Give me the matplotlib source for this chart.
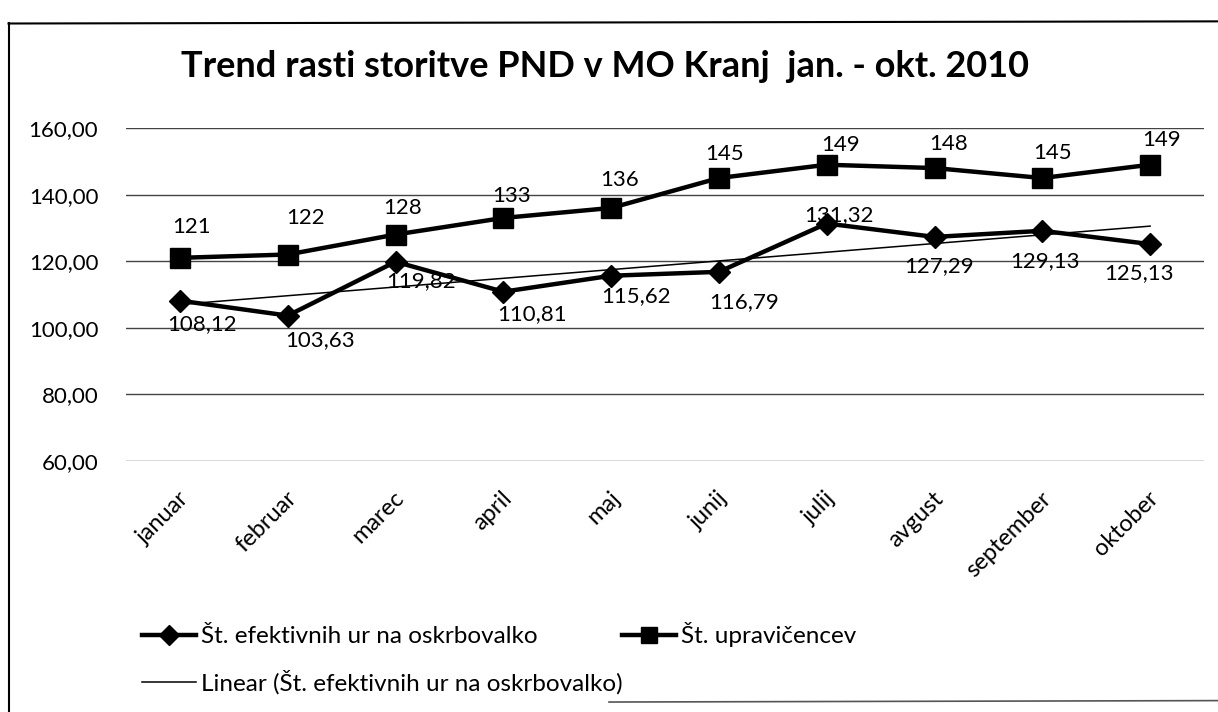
import numpy as np
import matplotlib
matplotlib.use("Agg")
from matplotlib import pyplot as plt
from matplotlib.lines import Line2D
import matplotlib.transforms as mtransforms

# Data
months = ['januar', 'februar', 'marec', 'april', 'maj',
          'junij', 'julij', 'avgust', 'september', 'oktober']
hours = [108.12, 103.63, 119.82, 110.81, 115.62,
         116.79, 131.32, 127.29, 129.13, 125.13]
users = [121, 122, 128, 133, 136, 145, 149, 148, 145, 149]
y_ticks = [60, 80, 100, 120, 140, 160]

# label offsets in points (dx, dy)
hours_off = [(16, -17), (23, -18), (18, -14), (21, -16), (18, -15),
             (18, -22), (9, 6), (3, -21), (2, -22), (-8, -21)]
users_off = [(8, 22), (13, 26), (5, 19), (6, 16), (6, 20),
             (4, 17), (10, 14), (10, 17), (7, 18), (8, 18)]

plt.rcParams['font.family'] = ['Lato', 'DejaVu Sans']

fig = plt.figure(figsize=(12.18, 7.12), dpi=100)
ax = fig.add_axes([0.1035, 0.353, 0.885, 0.467])

x = np.arange(len(months))

# trend line for hours
k, n = np.polyfit(x, hours, 1)
trend = k * x + n

ax.plot(x, trend, color='black', lw=1.1, zorder=3)
ax.plot(x, hours, color='black', lw=3.2, marker='D', markersize=11, zorder=4)
ax.plot(x, users, color='black', lw=3.2, marker='s', markersize=14, zorder=4)

for i in range(len(x)):
    ax.annotate(f'{hours[i]:.2f}'.replace('.', ','), (x[i], hours[i]),
                xytext=hours_off[i], textcoords='offset points',
                ha='center', va='center', fontsize=16, zorder=5)
    ax.annotate(str(users[i]), (x[i], users[i]),
                xytext=users_off[i], textcoords='offset points',
                ha='center', va='center', fontsize=16, zorder=5)

ax.set_xlim(-0.5, len(months) - 0.5)
ax.set_ylim(60, 160)
ax.set_yticks(y_ticks)
ax.set_yticklabels([f'{v:.2f}'.replace('.', ',') for v in y_ticks], fontsize=16)
ax.yaxis.grid(True, color='#444444', lw=1)
ax.set_axisbelow(True)
for s in ax.spines.values():
    s.set_visible(False)
ax.tick_params(axis='both', length=0)
ax.tick_params(axis='y', pad=20)

ax.set_xticks(x)
ax.set_xticklabels(months, rotation=45, ha='right', va='top',
                   rotation_mode='anchor', fontsize=17)
offset = mtransforms.ScaledTranslation(-0.02, -0.22, fig.dpi_scale_trans)
for lab in ax.get_xticklabels():
    lab.set_transform(lab.get_transform() + offset)

fig.text(0.497, 0.907, 'Trend rasti storitve PND v MO Kranj  jan. - okt. 2010',
         ha='center', va='center', fontsize=26, fontweight='bold')

# legend
h1 = Line2D([], [], color='black', lw=3.2, marker='D', markersize=10)
h2 = Line2D([], [], color='black', lw=3.2, marker='s', markersize=12)
h3 = Line2D([], [], color='black', lw=1.1)
fig.legend([h1, h3, h2],
           ['Št. efektivnih ur na oskrbovalko',
            'Linear (Št. efektivnih ur na oskrbovalko)',
            'Št. upravičencev'],
           ncol=2, loc='upper left', bbox_to_anchor=(0.107, 0.143),
           frameon=False, fontsize=17.5, handlelength=2.2, handletextpad=0.2,
           columnspacing=0.0, labelspacing=0.95, borderpad=0)

# chart border
fig.add_artist(Line2D([0.007, 0.007], [0.967, 0.0], color='black', lw=1.5))
fig.add_artist(Line2D([0.007, 1.0], [0.967, 0.97], color='black', lw=1.5))
fig.add_artist(Line2D([0.5, 1.0], [0.014, 0.016], color='#555555', lw=1.2))

fig.savefig('out.png', dpi=100)
